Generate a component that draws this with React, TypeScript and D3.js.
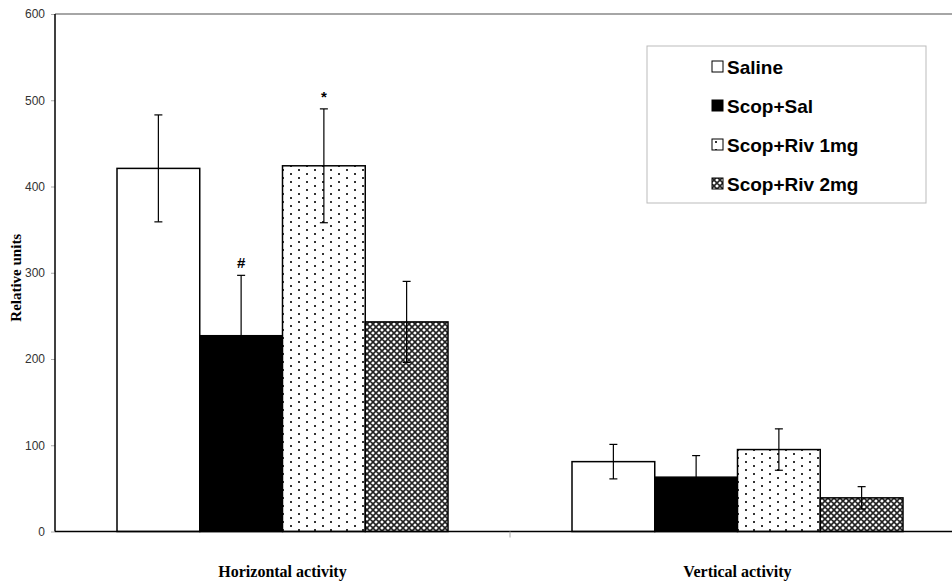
import { useRef, useEffect } from "react";
import * as d3 from "d3";

const categories = ["Horizontal activity", "Vertical activity"];
const series = ["Saline", "Scop+Sal", "Scop+Riv 1mg", "Scop+Riv 2mg"];
const means = [
  [421, 227, 424, 243],
  [81, 63, 95, 39],
];
const errors = [
  [62, 70, 66, 47],
  [20, 25, 24, 13],
];
const marks = [
  ["", "#", "*", ""],
  ["", "", "", ""],
];
const yTicks = [0, 100, 200, 300, 400, 500, 600];

const fills = ["#fff", "#000", "url(#dots)", "url(#hatch)"];

function drawChart(svgEl: SVGSVGElement) {
  const width = 952,
    height = 584;
  const left = 55,
    top = 14,
    bottom = 531.5;

  const svg = d3.select(svgEl);
  svg.selectAll("*").remove();
  svg.attr("width", width).attr("height", height).attr("viewBox", `0 0 ${width} ${height}`);

  const defs = svg.append("defs");
  const dots = defs.append("pattern").attr("id", "dots")
    .attr("patternUnits", "userSpaceOnUse").attr("width", 16).attr("height", 16);
  dots.append("rect").attr("width", 16).attr("height", 16).attr("fill", "#fff");
  [[4, 2], [12, 6], [4, 10], [12, 14]].forEach(([cx, cy]) =>
    dots.append("rect").attr("x", cx - 1).attr("y", cy - 1).attr("width", 2).attr("height", 2).attr("fill", "#333"));

  const hatch = defs.append("pattern").attr("id", "hatch")
    .attr("patternUnits", "userSpaceOnUse").attr("width", 6).attr("height", 6);
  hatch.append("rect").attr("width", 6).attr("height", 6).attr("fill", "#fff");
  hatch.append("path").attr("d", "M0,0L6,6M6,0L0,6M-3,3L3,9M3,-3L9,3M-3,3L3,-3M3,9L9,3")
    .attr("stroke", "#222").attr("stroke-width", 1.6);

  const x0 = d3.scaleBand().domain(categories).range([left, 965]);
  const x1 = d3.scaleBand().domain(series).range([62, x0.bandwidth() - 62]);
  const y = d3.scaleLinear().domain([0, 600]).range([bottom, top]);

  // frame top line
  svg.append("line").attr("x1", left).attr("x2", width).attr("y1", top).attr("y2", top)
    .attr("stroke", "#888").attr("stroke-width", 1.5);

  // y axis
  const yAxis = svg.append("g").attr("transform", `translate(${left},0)`)
    .call(d3.axisLeft(y).tickValues(yTicks).tickSize(4).tickPadding(6));
  yAxis.select(".domain").remove();
  yAxis.selectAll(".tick line").attr("stroke", "#aaa");
  yAxis.selectAll(".tick text").attr("fill", "#333").attr("font-family", "Liberation Sans, Arial, sans-serif").attr("font-size", 12);
  svg.append("line").attr("x1", left).attr("x2", left).attr("y1", top).attr("y2", bottom)
    .attr("stroke", "#000").attr("stroke-width", 1.5);

  const groups = svg.append("g").selectAll("g").data(categories).join("g")
    .attr("transform", (c) => `translate(${x0(c)},0)`);

  groups.each(function (c, ci) {
    const g = d3.select(this);
    series.forEach((s, si) => {
      const v = means[ci][si];
      const e = errors[ci][si];
      const bx = x1(s)!;
      const cx = bx + x1.bandwidth() / 2;
      g.append("rect").attr("x", bx).attr("y", y(v)).attr("width", x1.bandwidth()).attr("height", y(0) - y(v))
        .attr("fill", fills[si]).attr("stroke", "#000").attr("stroke-width", 1.5);
      g.append("line").attr("x1", cx).attr("x2", cx).attr("y1", y(v - e)).attr("y2", y(v + e))
        .attr("stroke", "#000").attr("stroke-width", 1.2);
      [v - e, v + e].forEach((t) =>
        g.append("line").attr("x1", cx - 4).attr("x2", cx + 4).attr("y1", y(t)).attr("y2", y(t))
          .attr("stroke", "#000").attr("stroke-width", 1.2));
      if (marks[ci][si]) {
        g.append("text").attr("x", cx).attr("y", y(v + e) - 7).attr("text-anchor", "middle")
          .attr("font-family", "Liberation Sans, Arial, sans-serif").attr("font-weight", "bold")
          .attr("font-size", 15).text(marks[ci][si]);
      }
    });
  });

  // x axis
  svg.append("line").attr("x1", left).attr("x2", width).attr("y1", bottom).attr("y2", bottom)
    .attr("stroke", "#000").attr("stroke-width", 1.5);
  svg.append("line").attr("x1", x0(categories[1])!).attr("x2", x0(categories[1])!)
    .attr("y1", bottom).attr("y2", bottom + 6).attr("stroke", "#aaa");

  svg.append("g").selectAll("text").data(categories).join("text")
    .attr("x", (c) => x0(c)! + x0.bandwidth() / 2).attr("y", 577).attr("text-anchor", "middle")
    .attr("font-family", "Liberation Serif, Times New Roman, serif").attr("font-weight", "bold")
    .attr("font-size", 16).text((c) => c);

  svg.append("text").attr("transform", `translate(21,${(top + bottom) / 2 + 5}) rotate(-90)`)
    .attr("text-anchor", "middle").attr("font-family", "Liberation Serif, Times New Roman, serif")
    .attr("font-weight", "bold").attr("font-size", 15).text("Relative units");

  // legend
  const lg = svg.append("g");
  lg.append("rect").attr("x", 647).attr("y", 46).attr("width", 279).attr("height", 157)
    .attr("fill", "#fff").attr("stroke", "#bbb").attr("stroke-width", 1);
  const ly = d3.scalePoint().domain(series).range([67, 184]);
  series.forEach((s, si) => {
    lg.append("rect").attr("x", 712).attr("y", ly(s)! - 6).attr("width", 11).attr("height", 11)
      .attr("fill", fills[si]).attr("stroke", "#000").attr("stroke-width", 1);
    lg.append("text").attr("x", 727).attr("y", ly(s)! + 7)
      .attr("font-family", "Liberation Sans, Arial, sans-serif").attr("font-weight", "bold")
      .attr("font-size", 19).text(s);
  });
}

export default function App() {
  const svg = useRef<SVGSVGElement>(null);
  useEffect(() => {
    if (svg.current) drawChart(svg.current);
  }, []);
  return <svg ref={svg} style={{ position: "absolute", left: 0, top: 0 }} />;
}
